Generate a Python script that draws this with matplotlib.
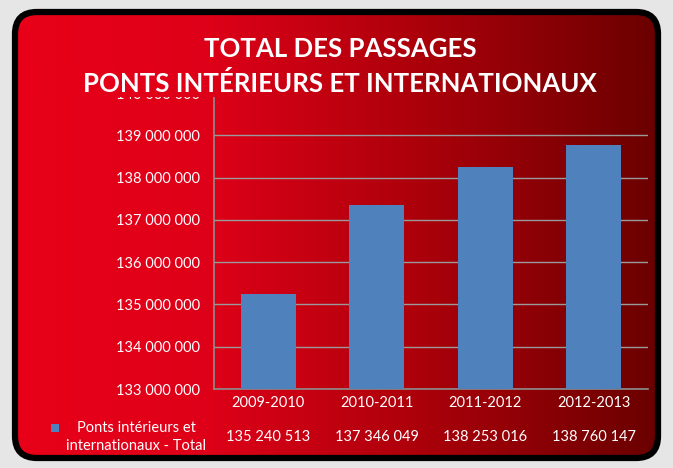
import matplotlib
matplotlib.use("Agg")
import matplotlib.pyplot as plt
import numpy as np
from matplotlib.colors import LinearSegmentedColormap
from matplotlib.patches import FancyBboxPatch, Rectangle

plt.rcParams["font.family"] = ["Lato", "DejaVu Sans"]

periods = ["2009-2010", "2010-2011", "2011-2012", "2012-2013"]
totals = [135240513, 137346049, 138253016, 138760147]
series_label = "Ponts intérieurs et\ninternationaux - Total"
title_lines = ["TOTAL DES PASSAGES", "PONTS INTÉRIEURS ET INTERNATIONAUX"]
y_ticks = [133000000, 134000000, 135000000, 136000000, 137000000,
           138000000, 139000000, 140000000]

W, H = 673, 468
BAR = "#4f81bd"
red_map = LinearSegmentedColormap.from_list(
    "panel", [(0, "#e80019"), (0.3, "#de0018"), (0.65, "#a8000a"), (1, "#6a0000")])


def fmt(v):
    return f"{v:,}".replace(",", " ")


def px_axes(x0, y0, x1, y1):
    # figure axes from pixel box (top-left origin)
    return fig.add_axes([x0 / W, 1 - y1 / H, (x1 - x0) / W, (y1 - y0) / H])


fig = plt.figure(figsize=(W / 100, H / 100), dpi=100)
fig.patch.set_facecolor("#e6e6e6")

# background panel with gradient and black rounded border
bg = fig.add_axes([0, 0, 1, 1], zorder=0)
bg.set_xlim(0, W)
bg.set_ylim(H, 0)
bg.axis("off")
grad = np.linspace(0, 1, 256)[None, :]
frame = FancyBboxPatch((15, 12), W - 30, H - 22, boxstyle="round,pad=0,rounding_size=22",
                       facecolor="none", edgecolor="black", lw=4.5, zorder=3)
bg.add_patch(frame)
img = bg.imshow(grad, cmap=red_map, extent=(15, W - 15, H - 10, 12), aspect="auto", zorder=1)
img.set_clip_path(frame)

# main plot area
ax = px_axes(214, 93, 648, 389)
ax.set_zorder(1)
ax.patch.set_visible(False)
x = np.arange(len(periods))
ax.bar(x, totals, width=0.51, color=BAR, zorder=3)
ax.set_xlim(-0.5, len(periods) - 0.5)
ax.set_ylim(y_ticks[0], y_ticks[-1])
ax.set_yticks(y_ticks)
ax.set_yticklabels([fmt(v) for v in y_ticks])
ax.set_xticks(x)
ax.set_xticklabels(periods)
ax.tick_params(axis="y", length=0, pad=10, labelcolor="white", labelsize=10.5)
ax.tick_params(axis="x", length=0, pad=5, labelcolor="white", labelsize=10.5)
ax.grid(axis="y", color="#9a9a9a", lw=1, zorder=1)
for s in ["top", "right"]:
    ax.spines[s].set_visible(False)
for s in ["left", "bottom"]:
    ax.spines[s].set_color("#8c8c8c")
    ax.spines[s].set_linewidth(1.2)

# data table row under the categories
for xi, v in zip(x, totals):
    ax.text(xi, -0.163, fmt(v), transform=ax.get_xaxis_transform(),
            ha="center", va="center", color="white", fontsize=10.5)
fig.text(136 / W, 1 - 437 / H, series_label, ha="center", va="center", multialignment="center",
         color="white", fontsize=10.5, linespacing=1.35)
fig.patches.append(Rectangle((51 / W, 1 - 432 / H), 8 / W, 8 / H, transform=fig.transFigure,
                             facecolor=BAR, edgecolor="none", figure=fig))

# strip of gradient hiding the top of the plot area under the title
tb = px_axes(20, 66, W - 20, 97)
tb.set_zorder(2)
tb.axis("off")
tb.imshow(grad[:, int(256 * 5 / (W - 30)):int(256 * (W - 35) / (W - 30))],
          cmap=red_map, vmin=0, vmax=1, extent=(0, 1, 0, 1), aspect="auto")

fig.text(340 / W, 1 - 49 / H, title_lines[0], ha="center", va="center",
         color="white", fontsize=18.5, fontweight="bold", zorder=5)
fig.text(340 / W, 1 - 83 / H, title_lines[1], ha="center", va="center",
         color="white", fontsize=18.5, fontweight="bold", zorder=5)

fig.savefig("out.png", dpi=100, facecolor=fig.get_facecolor())
